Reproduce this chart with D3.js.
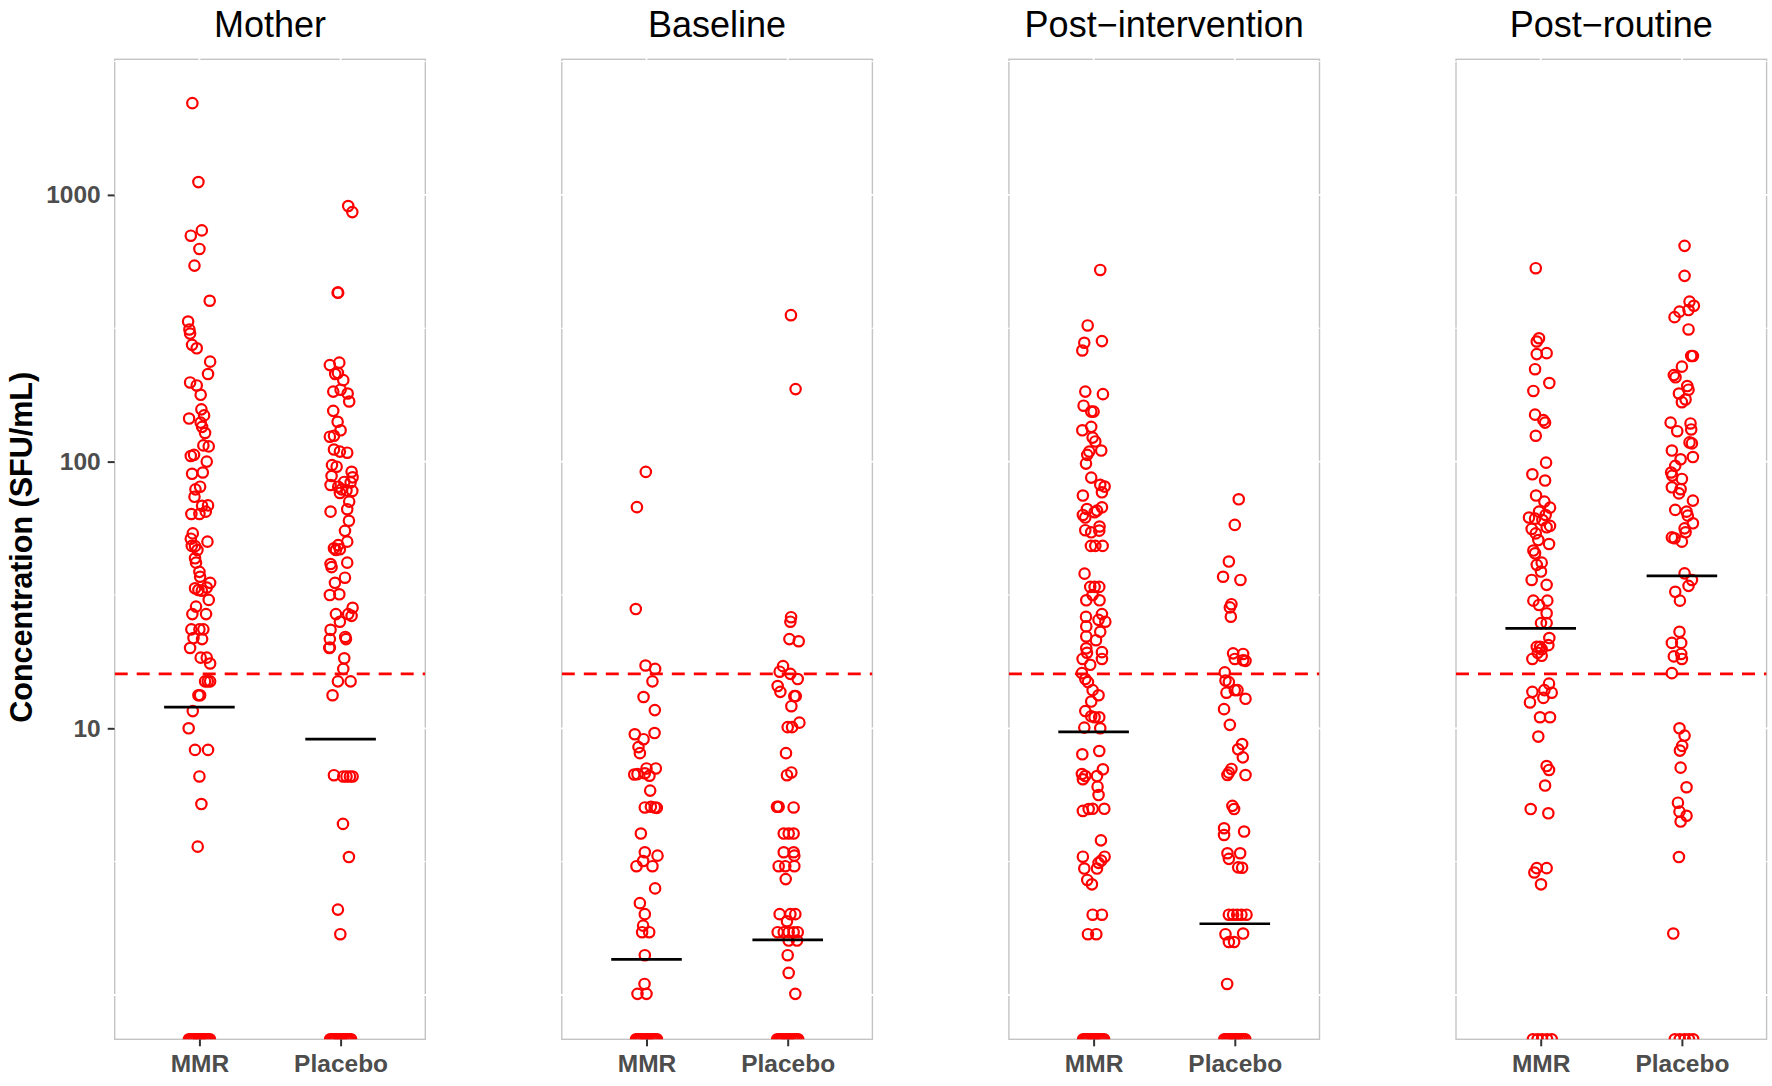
<!DOCTYPE html>
<html><head><meta charset="utf-8">
<script src="https://cdn.jsdelivr.net/npm/d3@7/dist/d3.min.js"></script>
<style>body{margin:0;background:#fff}svg{display:block}</style>
</head><body>
<svg id="chart" width="1772" height="1086"></svg>
<script>
// ---------------- data ----------------
const facets = ["Mother", "Baseline", "Post\u2212intervention", "Post\u2212routine"];
const groups = ["MMR", "Placebo"];
const yTicks = [10, 100, 1000];
const threshold = 16;
const meanMMR = [12.0, 1.36, 9.7, 23.7];
const meanPlacebo = [9.1, 1.61, 1.85, 37.3];

// each point: [concentration, horizontal jitter in category units]; 0 = below detection (drawn on the lower edge)
const motherMMR = [
 [2208,-0.050],[1117,-0.007],[736,0.017],[703,-0.061],[627,0],[543,-0.035],[401,0.073],[335,-0.080],
 [313,-0.071],[302,-0.066],[274,-0.052],[266,-0.019],[237,0.076],[213,0.061],[198,-0.066],[193,-0.019],
 [178,0.009],[157,0.014],[149,0.033],[145,-0.073],[140,0.009],[135,0.019],[128,0.040],[115,0.028],
 [114,0.066],[105,-0.061],[106,-0.038],[100,0.052],[91,0.024],[90,-0.052],[80.5,0.005],[78.7,-0.028],
 [73.8,-0.035],[68.5,0.061],[68.3,0.019],[64.9,0.045],[63.6,-0.057],[63.6,0],[53.8,-0.047],[51.4,-0.061],
 [50.1,0.057],[48.3,-0.054],[48.2,-0.031],[46.6,-0.014],[43.4,-0.031],[41.8,-0.024],[38.6,0],[37.0,0.005],
 [35.1,0.076],[33.5,-0.031],[33.0,-0.007],[32.8,0.017],[33.7,0.052],[30.3,0.066],[28.6,-0.024],[26.8,-0.050],
 [26.8,0.047],[23.5,-0.057],[23.5,0],[23.5,0.028],[21.8,-0.042],[21.6,0.019],[20.0,-0.066],[18.4,0.009],
 [18.4,0.052],[17.5,0.076],[15.0,0.040],[15.0,0.059],[15.0,0.076],[13.3,-0.007],[13.3,0.005],[11.6,-0.047],
 [10.0,-0.076],[8.3,-0.031],[8.3,0.061],[6.6,0],[5.2,0.014],[3.6,-0.012],
 [0,-0.074],[0,-0.060],[0,-0.047],[0,-0.034],[0,-0.020],[0,-0.007],[0,0.007],[0,0.020],[0,0.034],[0,0.047],[0,0.060],[0,0.074]
];
const motherPlacebo = [
 [908,0.054],[862,0.083],[430,-0.021],[430,-0.017],[230,-0.076],[235,-0.009],[213,-0.038],[215,-0.019],
 [202,0.019],[183,-0.052],[186,0],[180,0.050],[168,0.061],[155,-0.052],[141,-0.021],[131,0],
 [124,-0.076],[125,-0.047],[111,-0.047],[109,-0.005],[108,0.047],[97,-0.061],[95.7,-0.028],[91.6,0.078],
 [88.3,-0.064],[87.3,0.085],[83.9,0.026],[83.6,0.071],[81.7,-0.071],[80.5,-0.017],[78.7,0.007],[78.0,0.042],
 [77.6,0.083],[76.3,-0.005],[70.8,0.061],[66.3,0.047],[64.9,-0.071],[60.0,0.059],[55.0,0.031],[50.1,0.047],
 [48.6,-0.017],[47.3,-0.047],[46.9,-0.005],[46.6,-0.033],[41.8,0.047],[41.3,-0.071],[40.2,-0.064],[36.7,0.031],
 [35.1,-0.040],[31.6,-0.076],[31.8,-0.009],[28.3,0.085],[26.8,-0.033],[26.8,0.054],[26.4,0.078],[25.1,-0.005],
 [23.4,-0.071],[21.6,-0.076],[22.0,0.033],[21.6,0.038],[20.1,-0.076],[20.0,-0.080],[18.3,0.026],[16.7,0.019],
 [15.0,-0.019],[15.0,0.071],[13.3,-0.057],[6.67,-0.047],[6.6,0.019],[6.6,0.042],[6.6,0.066],[6.6,0.085],
 [4.38,0.017],[3.29,0.059],[2.09,-0.019],[1.69,-0.002],
 [0,-0.074],[0,-0.060],[0,-0.047],[0,-0.034],[0,-0.020],[0,-0.007],[0,0.007],[0,0.020],[0,0.034],[0,0.047],[0,0.060],[0,0.074]
];
const baselineMMR = [
 [91.5,-0.005],[67.5,-0.068],[28.0,-0.076],[17.2,-0.007],[16.7,0.061],[15.0,0.042],[13.1,-0.021],[11.7,0.059],
 [9.5,-0.083],[9.6,0.057],[9.1,-0.021],[8.5,-0.057],[8.07,-0.047],[7.07,0],[7.07,0.066],[6.71,-0.087],
 [6.73,-0.064],[6.78,-0.012],[6.64,0.021],[5.84,0.026],[5.05,-0.012],[5.08,0.031],[5.05,0.059],[5.03,0.073],
 [4.03,-0.040],[3.43,-0.012],[3.33,0.078],[3.18,-0.024],[3.04,-0.071],[3.04,0.042],[2.51,0.061],[2.21,-0.047],
 [2.01,-0.012],[1.82,-0.024],[1.72,-0.031],[1.72,0.019],[1.41,-0.012],[1.10,-0.014],[1.01,-0.064],[1.01,0],
 [0,-0.074],[0,-0.060],[0,-0.047],[0,-0.034],[0,-0.020],[0,-0.007],[0,0.007],[0,0.020],[0,0.034],[0,0.047],[0,0.060],[0,0.074]
];
const baselinePlacebo = [
 [354,0.023],[187,0.056],[26.1,0.024],[25.1,0.019],[21.6,0.012],[21.2,0.078],[17.1,-0.033],[16.3,-0.057],
 [16.0,0.019],[15.3,0.071],[14.4,-0.071],[13.7,-0.052],[13.2,0.047],[13.2,0.057],[12.1,0.026],[10.5,0.083],
 [10.1,0],[10.1,0.031],[8.07,-0.012],[6.67,-0.005],[6.83,0.026],[5.08,-0.076],[5.08,-0.064],[5.05,0.042],
 [4.03,-0.028],[4.03,0.007],[4.03,0.042],[3.43,-0.028],[3.43,0.042],[3.33,0.047],[3.04,-0.064],[3.04,-0.017],
 [3.04,0.047],[2.72,-0.014],[2.01,-0.057],[2.01,0.019],[2.01,0.054],[1.89,-0.005],[1.72,-0.071],[1.72,-0.028],
 [1.72,0.007],[1.72,0.042],[1.72,0.071],[1.60,0.007],[1.60,0.066],[1.41,0],[1.21,0.007],[1.01,0.054],
 [0,-0.074],[0,-0.060],[0,-0.047],[0,-0.034],[0,-0.020],[0,-0.007],[0,0.007],[0,0.020],[0,0.034],[0,0.047],[0,0.060],[0,0.074]
];
const postIntMMR = [
 [523,0.047],[324,-0.042],[283,0.059],[279,-0.066],[261,-0.080],[183,-0.059],[179,0.066],[162,-0.071],
 [154,-0.017],[154,0],[135,-0.017],[131,-0.080],[123,-0.007],[119,0.012],[110,0.054],[109,-0.031],
 [106,-0.045],[98.3,-0.054],[87.1,-0.017],[81.8,0.047],[80.6,0.078],[76.7,0.059],[74.6,-0.076],[67.4,0.059],
 [66.4,-0.047],[65.5,0.024],[64.6,0.007],[63.1,-0.076],[61.7,-0.059],[57.1,0.042],[55.3,-0.059],[54.3,-0.017],
 [55.1,0.040],[48.3,-0.019],[48.3,0.012],[48.3,0.064],[38.0,-0.064],[33.9,-0.024],[33.9,0.007],[33.9,0.040],
 [31.6,-0.007],[30.2,-0.052],[30.2,0.042],[26.2,-0.054],[26.8,0.059],[25.1,0.083],[25.5,0.035],[24.1,-0.052],
 [23.0,0.047],[22.1,-0.052],[21.4,0.017],[19.95,-0.052],[19.3,0.059],[19.2,-0.047],[18.2,0.059],[18.2,-0.078],
 [17.3,-0.024],[16.1,-0.083],[15.3,-0.059],[14.9,-0.040],[13.9,-0.007],[13.3,0.035],[12.6,-0.017],[11.6,-0.059],
 [11.1,-0.017],[11.0,0.040],[11.0,0.007],[10.06,-0.066],[10.0,0.047],[7.99,-0.080],[8.22,0.040],[7.02,0.066],
 [6.74,-0.083],[6.62,-0.059],[6.44,-0.076],[6.62,0.024],[6.04,0.028],[5.62,0.035],[4.90,-0.076],[4.98,-0.035],
 [4.99,-0.007],[4.99,0.076],[3.80,0.052],[3.30,-0.076],[3.30,0.078],[3.19,0.054],[3.13,0.035],[2.98,-0.066],
 [2.98,0.024],[2.70,-0.045],[2.60,-0.012],[2.0,-0.007],[2.0,0.059],[1.69,-0.040],[1.69,0.019],
 [0,-0.074],[0,-0.060],[0,-0.047],[0,-0.034],[0,-0.020],[0,-0.007],[0,0.007],[0,0.020],[0,0.034],[0,0.047],[0,0.060],[0,0.074]
];
const postIntPlacebo = [
 [72.2,0.028],[57.9,0],[42.2,-0.042],[37.0,-0.083],[36.0,0.040],[29.2,-0.024],[28.4,-0.035],[26.2,-0.028],
 [19.1,-0.012],[19.0,0.059],[18.2,0],[18.0,0.059],[17.9,0.076],[16.2,-0.071],[15.1,-0.066],[14.9,-0.042],
 [13.6,-0.059],[13.9,0],[13.9,0.019],[12.9,0.076],[11.8,-0.076],[10.3,-0.035],[8.73,0.052],[8.34,0.024],
 [7.78,0.057],[7.04,-0.024],[6.82,-0.042],[6.68,-0.052],[6.68,0.076],[5.12,-0.017],[4.98,-0.005],[4.22,-0.076],
 [3.98,-0.076],[4.10,0.066],[3.40,-0.052],[3.40,0.038],[3.24,-0.042],[3.01,0.024],[3.0,0.052],[2.0,-0.042],
 [2.0,-0.012],[2.0,0.017],[2.0,0.047],[2.0,0.083],[1.69,-0.066],[1.70,0.059],[1.58,-0.042],[1.58,-0.005],
 [1.10,-0.054],
 [0,-0.074],[0,-0.060],[0,-0.047],[0,-0.034],[0,-0.020],[0,-0.007],[0,0.007],[0,0.020],[0,0.034],[0,0.047],[0,0.060],[0,0.074]
];
const postRoutMMR = [
 [531,-0.035],[290,-0.012],[282,-0.028],[255,0.042],[253,-0.028],[222,-0.040],[197,0.061],[184,-0.052],
 [150,-0.040],[143,0.019],[140,0.031],[125,-0.035],[99.1,0.038],[89.6,-0.059],[84.9,0.031],[74.6,-0.033],
 [70.8,0.026],[67.2,0.066],[64.9,-0.012],[63.1,0.035],[61.7,-0.083],[61.1,-0.040],[60.4,0.012],[57.4,0.066],
 [56.7,0.042],[55.9,-0.064],[53.8,-0.035],[50.8,-0.017],[49.1,0.059],[46.4,-0.052],[45.3,-0.040],[41.8,0.007],
 [41.0,-0.028],[38.7,0.002],[36.0,-0.064],[34.5,0.042],[30.1,-0.052],[29.0,-0.012],[30.1,0.047],[27.0,0.042],
 [24.8,0.002],[24.8,0.042],[21.8,0.061],[20.2,-0.028],[20.2,-0.005],[19.8,0.007],[19.2,-0.021],[20.5,0.054],
 [18.2,-0.059],[18.7,0.007],[14.7,0.059],[13.7,-0.059],[13.9,0.026],[13.6,0.078],[13.0,0.019],[12.5,-0.076],
 [11.0,-0.005],[11.0,0.066],[9.31,-0.017],[7.22,0.042],[6.98,0.059],[6.10,0.031],[4.98,-0.071],[4.80,0.054],
 [2.99,-0.028],[2.88,-0.045],[2.99,0.042],[2.60,0.002],
 [0,-0.055],[0,-0.022],[0,0.010],[0,0.045],[0,0.078]
];
const postRoutPlacebo = [
 [644,0.019],[497,0.019],[398,0.054],[384,0.085],[370,0.047],[365,-0.017],[348,-0.052],[313,0.047],
 [249,0.066],[249,0.078],[227,0],[211,-0.057],[207,-0.045],[192,0.038],[186,0.047],[180,-0.021],
 [171,0.026],[167,0],[140,-0.080],[139,0.061],[132,0.066],[130,-0.033],[118,0.054],[117,0.071],
 [110,-0.071],[102,-0.009],[104,0.078],[96.4,-0.047],[91.0,-0.076],[88.6,-0.068],[86.1,0],[80.1,-0.071],
 [78.8,-0.009],[76.0,-0.021],[71.4,0.078],[65.9,-0.047],[64.9,0.033],[62.7,0.042],[58.7,0.078],[56.2,0.019],
 [54.3,0.026],[52.0,-0.071],[51.6,-0.052],[50.1,0],[38.1,0.019],[36.0,0.071],[34.2,0.047],[32.5,-0.047],
 [30.1,-0.014],[23.0,-0.017],[20.9,-0.071],[20.9,-0.005],[18.6,-0.057],[19.0,-0.005],[18.2,0],[16.1,-0.071],
 [10.0,-0.017],[9.39,0.019],[8.59,0.002],[8.25,-0.014],[7.12,-0.009],[6.01,0.033],[5.26,-0.028],[4.87,-0.017],
 [4.70,0.033],[4.47,-0.009],[3.29,-0.021],[1.70,-0.061],
 [0,-0.050],[0,-0.015],[0,0.020],[0,0.050],[0,0.080]
];
const seriesMMR = [motherMMR, baselineMMR, postIntMMR, postRoutMMR];
const seriesPlacebo = [motherPlacebo, baselinePlacebo, postIntPlacebo, postRoutPlacebo];

// ---------------- layout ----------------
const W = 1772, H = 1086;
const panelTop = 59.3, panelBottom = 1039.3;
const panelLeft0 = 114.7, panelW = 310.6, panelStep = 447.1;
const font = "'Liberation Sans', Arial, Helvetica, sans-serif";
const red = "#ff0000";

const svg = d3.select("#chart");
svg.append("rect").attr("width", W).attr("height", H).attr("fill", "#fff");

// y: log scale shared by all panels; zeros sit on the lower panel edge
const yLo = Math.pow(10, -0.1661), yHi = Math.pow(10, 3.5084);
const y = d3.scaleLog().domain([yLo, yHi]).range([panelBottom, panelTop]);
const yPos = v => v > 0 ? y(v) : panelBottom;

// x: discrete groups at 1 and 2 with ggplot-style 0.6 expansion
const x = d3.scaleLinear().domain([0.4, 2.6]).range([0, panelW]);

const majorGrid = [1, 10, 100, 1000];
const minorGrid = [Math.pow(10, 0.5), Math.pow(10, 1.5), Math.pow(10, 2.5), Math.pow(10, 3.5)];

const defs = svg.append("defs");

facets.forEach((name, fi) => {
  const left = panelLeft0 + fi * panelStep;
  const g = svg.append("g").attr("transform", `translate(${left},0)`);

  defs.append("clipPath").attr("id", "clip" + fi)
    .append("rect").attr("x", 0).attr("y", panelTop).attr("width", panelW).attr("height", panelBottom - panelTop);

  // border
  g.append("rect").attr("x", 0).attr("y", panelTop).attr("width", panelW).attr("height", panelBottom - panelTop)
    .attr("fill", "none").attr("stroke", "#c4c4c4").attr("stroke-width", 1.4);

  // white gridlines (visible only where they cross the border)
  minorGrid.forEach(v => {
    const yy = y(v);
    if (yy < panelTop || yy > panelBottom) return;
    g.append("line").attr("x1", -1.5).attr("x2", panelW + 1.5).attr("y1", yy).attr("y2", yy)
      .attr("stroke", "#fff").attr("stroke-width", 1.0);
  });
  majorGrid.forEach(v => {
    const yy = y(v);
    g.append("line").attr("x1", -1.5).attr("x2", panelW + 1.5).attr("y1", yy).attr("y2", yy)
      .attr("stroke", "#fff").attr("stroke-width", 1.8);
  });
  [1, 2].forEach(c => {
    g.append("line").attr("x1", x(c)).attr("x2", x(c)).attr("y1", panelTop - 1.5).attr("y2", panelBottom + 1.5)
      .attr("stroke", "#fff").attr("stroke-width", 1.8);
  });

  const plot = g.append("g").attr("clip-path", `url(#clip${fi})`);

  // points
  [seriesMMR[fi], seriesPlacebo[fi]].forEach((pts, gi) => {
    plot.selectAll(null).data(pts).enter().append("circle")
      .attr("cx", d => x(gi + 1 + d[1]))
      .attr("cy", d => yPos(d[0]))
      .attr("r", 5.2)
      .attr("fill", "none").attr("stroke", red).attr("stroke-width", 2.2);
  });

  // means
  [meanMMR[fi], meanPlacebo[fi]].forEach((m, gi) => {
    plot.append("line")
      .attr("x1", x(gi + 1 - 0.25)).attr("x2", x(gi + 1 + 0.25))
      .attr("y1", y(m)).attr("y2", y(m))
      .attr("stroke", "#000").attr("stroke-width", 2.7);
  });

  // threshold
  plot.append("line").attr("x1", 0).attr("x2", panelW).attr("y1", y(threshold)).attr("y2", y(threshold))
    .attr("stroke", red).attr("stroke-width", 2.6).attr("stroke-dasharray", "13,9");

  // x axis
  const xAxis = d3.axisBottom(x).tickValues([1, 2]).tickFormat(d => groups[d - 1])
    .tickSize(7).tickPadding(8);
  const xa = g.append("g").attr("transform", `translate(0,${panelBottom})`).call(xAxis);
  xa.select(".domain").remove();
  xa.selectAll(".tick line").attr("stroke", "#333").attr("stroke-width", 2);
  xa.selectAll(".tick text").attr("fill", "#4d4d4d").attr("font-family", font)
    .attr("font-weight", "bold").attr("font-size", "24.5px").attr("dy", "0.71em");

  // title
  g.append("text").attr("x", panelW / 2).attr("y", 37).attr("text-anchor", "middle")
    .attr("font-family", font).attr("font-size", "36px").attr("fill", "#000").text(name);

  // y axis on first panel only
  if (fi === 0) {
    const yAxis = d3.axisLeft(y).tickValues(yTicks).tickFormat(d3.format("d")).tickSize(7).tickPadding(7);
    const ya = g.append("g").call(yAxis);
    ya.select(".domain").remove();
    ya.selectAll(".tick line").attr("stroke", "#333").attr("stroke-width", 2);
    ya.selectAll(".tick text").attr("fill", "#4d4d4d").attr("font-family", font)
      .attr("font-weight", "bold").attr("font-size", "24.5px");
  }
});

// y axis title
svg.append("text")
  .attr("transform", `translate(31.5,${(panelTop + panelBottom) / 2 - 2}) rotate(-90)`)
  .attr("text-anchor", "middle").attr("font-family", font).attr("font-weight", "bold")
  .attr("font-size", "30.5px").attr("fill", "#000").text("Concentration (SFU/mL)");
</script>
</body></html>
